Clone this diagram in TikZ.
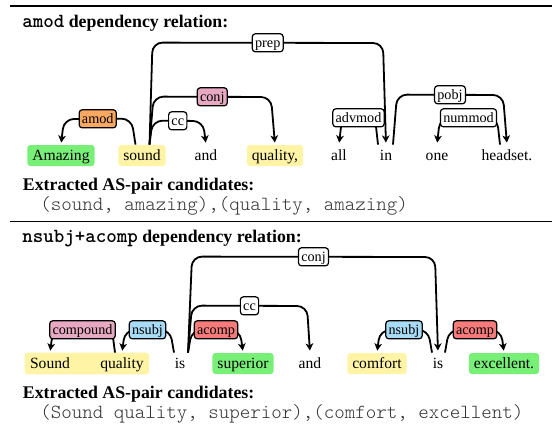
\documentclass[tikz,border=0pt]{standalone}
\usepackage{fontspec}
\setmainfont{Liberation Serif}
\usetikzlibrary{arrows.meta,calc,fit,backgrounds}

\definecolor{aspgreen}{HTML}{78F078}
\definecolor{aspyellow}{HTML}{FFF4A6}
\definecolor{relorange}{HTML}{F9A860}
\definecolor{relpink}{HTML}{E6A9C1}
\definecolor{relblue}{HTML}{A8DBF5}
\definecolor{relred}{HTML}{F57A7A}

\tikzset{
    word/.style = {
        anchor=base,
        inner xsep=2.5pt, inner ysep=0pt,
        text height=7.5pt, text depth=3pt,
        rounded corners=1.5pt,
        font=\fontsize{7.8}{9}\selectfont
    },
    aspect/.style = {
        word,
        fill=aspyellow
    },
    opinion/.style = {
        word,
        fill=aspgreen
    },
    dep/.style = {
        line width=0.9pt,
        rounded corners=5pt,
        -{Stealth[length=3.6pt,width=3.8pt,inset=1pt]},
        shorten >=1pt
    },
    rel/.style = {
        draw, fill=white,
        line width=0.6pt,
        rounded corners=1.5pt,
        inner xsep=1.4pt, inner ysep=0pt,
        text height=6pt, text depth=1.6pt,
        minimum height=9pt,
        font=\fontsize{7.1}{8}\selectfont
    },
    heading/.style = {
        anchor=base west, inner sep=0pt,
        font=\fontsize{8.9}{10}\selectfont\bfseries
    },
    pairs/.style = {
        anchor=base west, inner sep=0pt,
        text=black!80,
        font=\fontsize{10}{12}\selectfont\ttfamily\fontseries{l}\selectfont
    }
}

\begin{document}
\begin{tikzpicture}[x=0.5pt, y=-0.5pt]
    \useasboundingbox (0,0) rectangle (553,429);

    % Rules
    \draw[line width=0.8pt] (10,6) -- (552,6);
    \draw[line width=0.5pt] (10,221) -- (552,221);

    % First sentence
    \node[heading] (title1) at (22,27) {{\fontsize{10}{10}\selectfont\texttt{amod}} dependency relation:};

    \node[opinion] (amazing)  at (61,160)  {Amazing};
    \node[aspect]  (sound)    at (142,160) {sound};
    \node[word]    (and)      at (206,160) {and};
    \node[aspect]  (quality)  at (275,160) {quality,};
    \node[word]    (all)      at (339,160) {all};
    \node[word]    (in)       at (386,160) {in};
    \node[word]    (one)      at (437,160) {one};
    \node[word]    (headset)  at (507,160) {headset.};

    \draw[dep] ([xshift=-3.25pt]sound.north) -- ++(-4,-26)
        -- node[rel, fill=relorange] (lamod) {amod} ($(amazing.north |- 0,119)+(3,0)$) -- (amazing.north);
    \draw[dep] ([xshift=3.75pt]sound.north) -- ++(3,-24)
        -- node[rel] (lcc) {cc} ($(and.north |- 0,121)+(-3,0)$) -- (and.north);
    \draw[dep] ([xshift=3.75pt]sound.north) -- ++(4,-48)
        -- node[rel, fill=relpink] (lconj) {conj} ($(quality.north |- 0,97)+(-4,0)$) -- (quality.north);
    \draw[dep] ([xshift=3.75pt]sound.north) -- ++(3,-102)
        -- node[rel] (lprep) {prep} ($(in.north |- 0,43)+(-3,0)$) -- (in.north);
    \draw[dep] ([xshift=-4pt]in.north) -- ++(-3,-27)
        -- node[rel] (ladvmod) {advmod} ($(all.north |- 0,118)+(3,0)$) -- (all.north);
    \draw[dep] ([xshift=3.5pt]in.north) -- ++(4,-50)
        -- node[rel] (lpobj) {pobj} ($(headset.north |- 0,95)+(-4,0)$) -- (headset.north);
    \draw[dep] ([xshift=-3.5pt]headset.north) -- ++(-3,-27)
        -- node[rel] (lnummod) {nummod} ($(one.north |- 0,118)+(3,0)$) -- (one.north);

    \node[heading] (cand1) at (22.5,190) {Extracted AS-pair candidates:};
    \node[pairs] (pairs1) at (40,210) {(sound, amazing),(quality, amazing)};

    % Second sentence
    \node[heading] (title2) at (22,242) {{\fontsize{10}{10}\selectfont\texttt{nsubj+acomp}} dependency relation:};

    \node[word]    (sound2)    at (50,368)  {Sound};
    \node[word]    (quality2)  at (122,368) {quality};
    \node[word]    (is)        at (180,368) {is};
    \node[opinion] (superior)  at (243,368) {superior};
    \node[word]    (and2)      at (310,368) {and};
    \node[aspect]  (comfort)   at (377,368) {comfort};
    \node[word]    (is2)       at (438,368) {is};
    \node[opinion] (excellent) at (504,368) {excellent.};

    \begin{scope}[on background layer]
        \node[fit=(sound2)(quality2), inner sep=0pt, fill=aspyellow, rounded corners=1.5pt] (soundquality) {};
    \end{scope}

    \draw[dep] ([xshift=-3.5pt]quality2.north) -- ++(-3,-23)
        -- node[rel, fill=relpink] (lcompound) {compound} ($(sound2.north |- 0,330)+(3,0)$) -- (sound2.north);
    \draw[dep] ([xshift=-3pt]is.north) -- ++(-4,-23)
        -- node[rel, fill=relblue] (lnsubj) {nsubj} ($(quality2.north |- 0,330)+(3,0)$) -- (quality2.north);
    \draw[dep] ([xshift=4pt]is.north) -- ++(4,-23)
        -- node[rel, fill=relred] (lacomp) {acomp} ($(superior.north |- 0,330)+(-3,0)$) -- (superior.north);
    \draw[dep] ([xshift=4pt]is.north) -- ++(4,-47)
        -- node[rel] (lcc2) {cc} ($(and2.north |- 0,306)+(-3,0)$) -- (and2.north);
    \draw[dep] ([xshift=4pt]is.north) -- ++(4,-96)
        -- node[rel] (lconj2) {conj} ($(is2.north |- 0,257)+(-3,0)$) -- (is2.north);
    \draw[dep] ([xshift=-3pt]is2.north) -- ++(-4,-23)
        -- node[rel, fill=relblue] (lnsubj2) {nsubj} ($(comfort.north |- 0,330)+(3,0)$) -- (comfort.north);
    \draw[dep] ([xshift=3.5pt]is2.north) -- ++(4,-23)
        -- node[rel, fill=relred] (lacomp2) {acomp} ($(excellent.north |- 0,330)+(-3,0)$) -- (excellent.north);

    \node[heading] (cand2) at (22.5,398) {Extracted AS-pair candidates:};
    \node[pairs] (pairs2) at (40,418) {(Sound quality, superior),(comfort, excellent)};
\end{tikzpicture}
\end{document}
